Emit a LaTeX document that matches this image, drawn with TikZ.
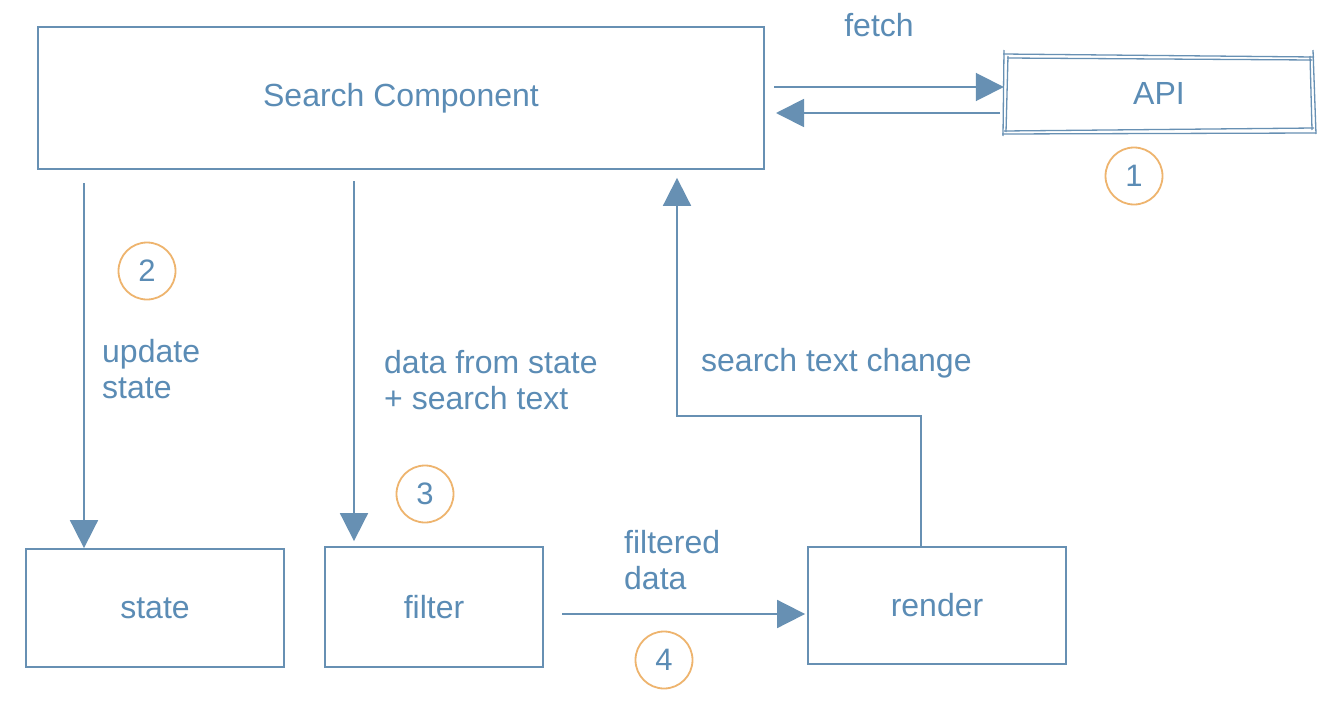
\documentclass[tikz,border=0pt]{standalone}
\usepackage{fontspec}
\setmainfont{Liberation Sans}
\usetikzlibrary{arrows.meta}
\definecolor{lineblue}{HTML}{6790B3}
\definecolor{txtblue}{HTML}{5B8CB5}
\definecolor{circorange}{HTML}{EEB46E}
\begin{document}
\begin{tikzpicture}[x=1pt,y=-1pt,
  box/.style={draw=lineblue,line width=1.8pt,fill=white,inner sep=0pt,text=txtblue,font=\fontsize{32}{36}\selectfont},
  lbl/.style={text=txtblue,font=\fontsize{32}{36}\selectfont,align=left,inner sep=0pt,anchor=west},
  num/.style={draw=circorange,line width=1.8pt,circle,minimum size=57pt,inner sep=0pt,text=txtblue,font=\fontsize{31}{34}\selectfont},
  arr/.style={draw=lineblue,line width=1.8pt,-{Triangle[length=28pt,width=28pt]}},
  sketch/.style={draw=lineblue,line width=1.3pt}]
\useasboundingbox[fill=white] (0,0) rectangle (1328,704);
% boxes
\node[box,minimum width=726pt,minimum height=142pt] (search) at (401,98) {\raisebox{-4pt}{Search Component}};
\node[box,minimum width=258pt,minimum height=118pt] (state) at (155,608) {state};
\node[box,minimum width=218pt,minimum height=120pt] (filter) at (434,607) {\raisebox{-3pt}{filter}};
\node[box,minimum width=258pt,minimum height=117pt] (render) at (937,605.5) {render};
\node[text=txtblue,font=\fontsize{32}{36}\selectfont,minimum width=310pt,minimum height=77pt,inner sep=0pt] (api) at (1159,93) {API};
% sketchy API outline
\draw[sketch] (1003,54) -- (1314,57);
\draw[sketch] (1007,58) -- (1312,60);
\draw[sketch] (1004,131) -- (1314,128);
\draw[sketch] (1002,134) -- (1316,133);
\draw[sketch] (1004,50) -- (1003,136);
\draw[sketch] (1008,56) -- (1006,132);
\draw[sketch] (1313,50) -- (1316,134);
\draw[sketch] (1310,56) -- (1312,130);
% coordinates
\coordinate (bend) at (677,416);
\coordinate (rstart) at (921,547);
% connectors
\draw[arr] (774,87) coordinate (f0) -- (f0 -| api.west);
\draw[arr] (1000,113) coordinate (b0) -- (776,113);
\draw[arr,shorten <=14pt] (84,169) coordinate (s0) -- (s0 |- state.north);
\draw[arr,shorten <=12pt,shorten >=5pt] (354,169) coordinate (t0) -- (t0 |- filter.north);
\draw[arr,shorten >=2pt] (562,614) coordinate (g0) -- (g0 -| render.west);
\draw[arr,shorten >=8pt] (rstart) |- (bend) -- (bend |- search.south);
% labels
\node[lbl,anchor=center] (fetch) at (879,25) {fetch};
\node[lbl] (upd) at (102,369) {update\\state};
\node[lbl] (dfs) at (384,380) {data from state\\+ search text};
\node[lbl] (stc) at (701,363) {search text change};
\node[lbl] (fd) at (624,560) {filtered\\data};
% numbered circles
\node[num] (n1) at (1134,176) {1};
\node[num] (n2) at (147,271) {2};
\node[num] (n3) at (425,494) {3};
\node[num] (n4) at (664,660) {4};
\end{tikzpicture}
\end{document}
